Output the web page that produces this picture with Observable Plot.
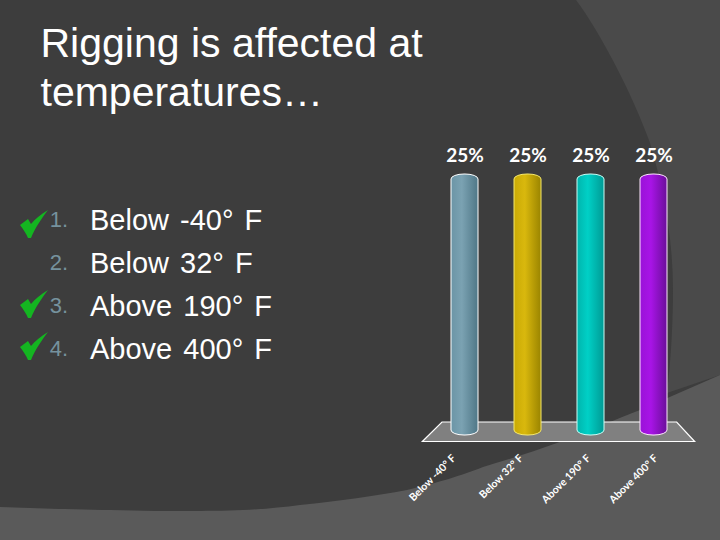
<!DOCTYPE html>
<html><head><meta charset="utf-8">
<script src="https://cdn.jsdelivr.net/npm/d3@7"></script>
<script src="https://cdn.jsdelivr.net/npm/@observablehq/plot@0.6"></script>
<style>
html,body{margin:0;padding:0;width:720px;height:540px;overflow:hidden;background:#3d3d3d}
#bg{position:absolute;left:0;top:0}
#title{position:absolute;left:40.5px;top:19px;color:#fff;font:41px/48.5px "Liberation Sans",Arial,sans-serif}
#list{position:absolute;left:0;top:199px;font-family:"Liberation Sans",Arial,sans-serif}
.row{position:absolute;left:0;height:43px;width:300px;white-space:nowrap}
.num{position:absolute;right:232px;top:6px;color:#76929e;font-size:22px;line-height:30px}
.opt{position:absolute;left:90px;top:5px;color:#fff;font-size:29px;line-height:32px;word-spacing:3px}
.chk{position:absolute;left:20px}
#chart{position:absolute;left:0;top:0}
</style></head><body>
<svg id="bg" width="720" height="540">
  <path d="M576 0 C600 32 633 95 650 143 C664 190 673 240 673 290 C673 330 670 370 667 393 L720 375 L720 0Z" fill="#4a4a4a"/>
  <path d="M0 507 C40 508 80 510 110 510 C140 511 170 511 200 511 C240 511 270 509 300 505 C340 501 375 496 407 490 C440 482 460 476 483 467 C510 459 535 451 557 443 C585 432 615 420 640 410 L720 375 L720 540 L0 540Z" fill="#5a5a5a"/>
</svg>
<div id="title">Rigging is affected at<br>temperatures…</div>
<div id="list"></div>
<div id="chart"></div>
<script>
const categories = ["Below -40° F","Below 32° F","Above 190° F","Above 400° F"];
const percents = [25,25,25,25];
const barFills = ["url(#g0)","url(#g1)","url(#g2)","url(#g3)"];
const barStrokes = ["#ffffff","#f6e96b","#c8fff6","#ffe6ff"];
const gradientStops = [["#6b95a6","#7ba2b2","#4f7787"],["#c9aa05","#d9b80d","#9a8400"],["#00b5ad","#00d0c6","#009a94"],["#9a12d8","#a814e6","#6a0e9a"]];
const optionLabels = categories;
const numbers = ["1.","2.","3.","4."];
const correct = [true,false,true,true];

const list = document.getElementById("list");
const checkTops = [11,0,5,4];
numbers.forEach((n,i)=>{
  const r=document.createElement("div");r.className="row";r.style.top=(i*43)+"px";
  r.innerHTML=`<span class="num">${n}</span><span class="opt">${optionLabels[i]}</span>`+(correct[i]?`<svg class="chk" style="top:${checkTops[i]}px" width="28" height="28" viewBox="0 0 28 28"><path d="M0 15 L8 9 L11 14 C15 9 21 4 28 0 C22 8 15 18 11 28 L8 28 C6 23 3 19 0 15Z" fill="#14b521"/></svg>`:"");
  list.appendChild(r);
});

const table = categories.map((c,i)=>({c,p:percents[i],fill:barFills[i],stroke:barStrokes[i]}));
const defs = () => {
  const s = d3.create("svg:defs");
  gradientStops.forEach((st,i)=>{
    const g=s.append("linearGradient").attr("id","g"+i);
    st.forEach((col,j)=>g.append("stop").attr("offset",[0,.4,1][j]).attr("stop-color",col));
  });
  return s.node();
};
const floor = (index,{x,y}) => {
  const bw=x.bandwidth(), a=x(categories[0]), b=x(categories[3])+bw, y0=y(0);
  return d3.create("svg:polygon")
    .attr("points",[[a-9,y0-13],[b+9.65,y0-13],[b+27.65,y0+6.5],[a-28.65,y0+6.5]].join(" "))
    .attr("fill","#808080").attr("stroke","#fff").attr("stroke-width",1.2).node();
};
const axisStyle = {tickSize:0,tickRotate:-45,tickPadding:21,fill:"#fff",fontSize:10.5,fontWeight:"bold",fontFamily:"Lato",label:null};
const plot = Plot.plot({
  width:720,height:540,marginTop:174,marginBottom:105,marginLeft:450.65,marginRight:52.65,
  style:{background:"transparent",overflow:"visible"},
  x:{domain:categories,paddingInner:0.578,paddingOuter:0,label:null},
  y:{domain:[0,25],label:null},
  marks:[
    defs,
    floor,
    Plot.barY(table,{x:"c",y:"p",fill:"fill",stroke:"stroke",strokeWidth:1,rx:13,ry:5}),
    Plot.text(table,{x:"c",y:"p",text:d=>d.p+"%",dy:-19,fill:"#fff",fontSize:19,fontWeight:"bold",fontFamily:"Lato"}),
    ...categories.map((c,i)=>Plot.axisX([c],{...axisStyle,dx:-11+i*4.4})),
    Plot.axisY({ticks:[],label:null,tickSize:0})
  ]
});
document.getElementById("chart").appendChild(plot);
</script>
</body></html>
